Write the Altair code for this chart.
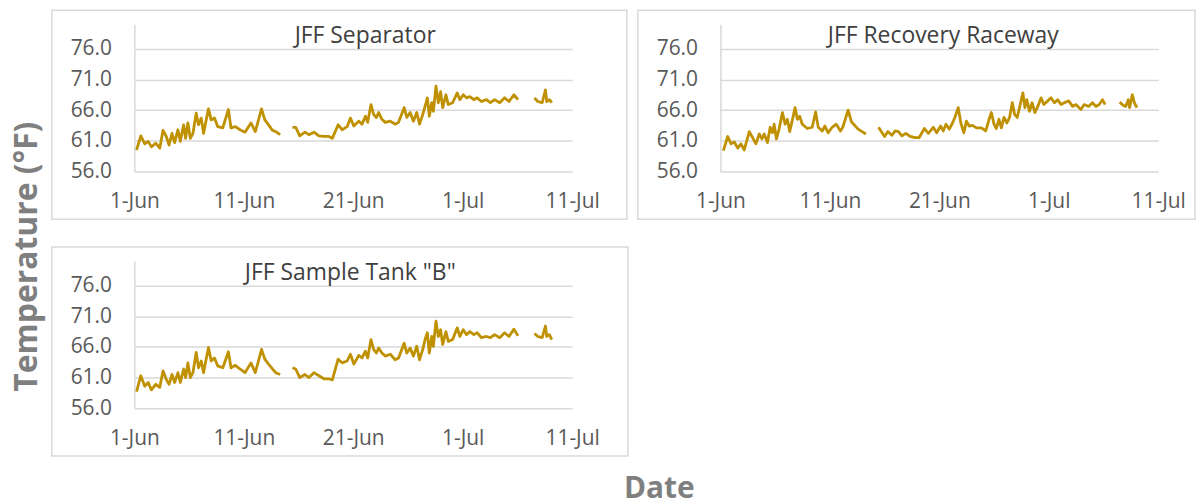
import altair as alt
import pandas as pd

# ---- data (days after 1-Jun, °F); None marks a gap in logging ----
DAYS_A = [0.20, 0.59, 0.95, 1.26, 1.56, 1.95, 2.32, 2.62, 2.92, 3.17, 3.44, 3.68, 3.98, 4.20,
          4.50, 4.68, 4.89, 5.11, 5.35, 5.65, 5.86, 6.11, 6.32, 6.77, 7.02, 7.32, 7.62, 8.08,
          8.59, 8.83, 9.23, 9.65, 10.11, 10.65, 11.05, 11.62, 11.92, 12.26, 12.62, 12.92, 13.32,
          None,
          14.44, 14.74, 15.11, 15.59, 15.95, 16.41, 16.86, 17.32, 17.77, 18.08, 18.62, 18.98,
          19.44, 19.74, 20.05, 20.50, 20.80, 21.11, 21.32, 21.62, 21.86, 22.11, 22.32, 22.62,
          22.92, 23.38, 23.83, 24.14, 24.65, 24.89, 25.20, 25.50, 25.80, 26.05, 26.35, 26.56,
          26.77, 26.95, 27.17, 27.32, 27.56, 27.77, 27.98, 28.17, 28.47, 28.68, 29.08, 29.50,
          29.74, 30.05, 30.35, 30.65, 31.02, 31.32, 31.71, 32.17, 32.53, 32.92, 33.38, 33.83,
          34.23, 34.68, 35.05,
          None,
          36.56, 36.86, 37.26, 37.56, 37.68, 37.92, 38.14]

SEPARATOR_F = [59.5, 61.8, 60.5, 60.9, 60.0, 60.6, 59.8, 62.7, 61.7, 60.3, 62.2, 60.7, 62.8, 60.9,
               63.6, 61.4, 63.9, 61.4, 62.2, 65.5, 63.6, 64.7, 62.2, 66.2, 64.4, 64.7, 63.3, 63.1,
               66.1, 63.1, 63.3, 62.8, 62.4, 63.9, 62.5, 66.2, 64.4, 63.6, 62.7, 62.5, 62.0,
               None,
               63.2, 63.2, 61.8, 62.4, 62.0, 62.4, 61.8, 61.7, 61.7, 61.4, 63.6, 62.8,
               63.3, 64.7, 63.4, 64.2, 63.7, 65.0, 64.0, 66.9, 65.3, 64.8, 65.6, 64.5,
               64.0, 64.2, 63.7, 64.0, 66.4, 64.8, 65.6, 64.2, 65.6, 63.7, 65.3, 66.6,
               68.0, 65.0, 67.2, 65.8, 69.9, 67.2, 69.0, 66.4, 68.5, 66.9, 67.2, 68.8,
               67.7, 68.5, 68.0, 68.2, 67.7, 68.0, 67.4, 67.7, 67.2, 67.7, 67.2, 68.0,
               67.4, 68.5, 67.7,
               None,
               68.0, 67.4, 67.2, 69.3, 67.4, 67.7, 67.2]

TANK_B_F = [58.7, 61.3, 59.6, 60.2, 59.0, 59.9, 59.4, 62.1, 60.7, 59.9, 61.5, 60.2, 61.8, 60.2,
            62.4, 61.0, 63.4, 61.0, 61.8, 65.1, 62.6, 63.7, 61.8, 65.9, 63.7, 64.2, 62.9, 62.6,
            65.2, 62.6, 63.0, 62.4, 61.8, 63.4, 61.8, 65.6, 64.0, 63.2, 62.4, 61.8, 61.5,
            None,
            62.6, 62.4, 61.0, 61.5, 61.0, 61.8, 61.3, 60.8, 60.8, 60.6, 64.0, 63.4,
            63.7, 64.8, 63.2, 64.6, 64.2, 65.3, 64.2, 67.2, 65.6, 65.0, 65.8, 65.0,
            64.5, 64.8, 63.9, 64.2, 66.6, 65.0, 65.8, 64.5, 66.1, 63.9, 65.6, 67.2,
            68.3, 65.0, 67.7, 66.1, 70.2, 67.7, 68.8, 66.4, 68.5, 66.9, 67.2, 69.1,
            67.7, 68.8, 68.0, 68.5, 68.0, 68.3, 67.5, 67.7, 67.5, 68.0, 67.5, 68.3,
            67.7, 68.9, 67.8,
            None,
            68.2, 67.7, 67.5, 69.4, 67.7, 68.0, 67.2]

DAYS_B = [0.27, 0.67, 0.97, 1.27, 1.58, 1.88, 2.18, 2.64, 2.94, 3.24, 3.55, 3.79, 4.00, 4.30,
          4.55, 4.76, 4.91, 5.12, 5.36, 5.67, 5.91, 6.12, 6.33, 6.58, 6.82, 7.03, 7.24, 7.48,
          7.94, 8.39, 8.70, 8.94, 9.30, 9.55, 9.85, 10.21, 10.58, 10.97, 11.18, 11.67, 11.97,
          12.18, 12.58, 12.94, 13.30,
          None,
          14.45, 14.70, 15.00, 15.30, 15.67, 15.97, 16.27, 16.58, 16.94, 17.33, 17.79, 18.15,
          18.64, 19.00, 19.45, 19.76, 20.12, 20.36, 20.61, 20.91, 21.21, 21.42, 21.73, 21.97,
          22.24, 22.48, 22.73, 23.03, 23.39, 23.85, 24.24, 24.55, 24.76, 25.00, 25.21, 25.45,
          25.67, 25.91, 26.18, 26.42, 26.67, 26.88, 27.12, 27.39, 27.64, 27.82, 28.00, 28.24,
          28.48, 28.73, 29.00, 29.30, 29.55, 29.91, 30.21, 30.52, 30.82, 31.12, 31.42, 31.82,
          32.18, 32.48, 32.94, 33.24, 33.64, 34.00, 34.30, 34.61, 34.91, 35.15,
          None,
          36.48, 36.79, 37.03, 37.27, 37.39, 37.64, 37.82, 38.06]

RACEWAY_F = [59.4, 61.7, 60.5, 60.8, 59.8, 60.5, 59.5, 62.5, 61.5, 60.5, 62.1, 61.3, 62.1, 60.7,
             63.2, 62.3, 63.7, 61.3, 62.9, 65.6, 63.7, 64.5, 62.5, 64.4, 66.4, 64.5, 65.0, 63.7,
             63.0, 63.2, 65.7, 63.2, 62.6, 63.4, 62.3, 63.2, 63.7, 62.6, 63.2, 66.0, 64.1,
             63.7, 62.9, 62.5, 62.1,
             None,
             63.2, 62.5, 61.7, 62.5, 61.9, 62.6, 62.5, 61.8, 62.2, 61.7, 61.5, 61.5,
             63.0, 62.2, 63.2, 62.3, 63.4, 62.6, 63.7, 62.9, 63.9, 64.8, 66.4, 63.9,
             62.3, 64.2, 63.4, 63.5, 63.1, 63.1, 62.6, 64.5, 65.6, 63.7, 63.0, 64.5,
             63.1, 64.8, 63.9, 64.8, 67.2, 65.3, 64.8, 66.9, 68.8, 66.4, 67.7, 65.8,
             67.2, 65.6, 66.6, 68.0, 66.9, 67.5, 68.0, 67.2, 67.7, 66.9, 67.2, 67.5,
             66.6, 66.9, 66.1, 66.9, 66.6, 67.2, 66.6, 66.9, 67.7, 66.9,
             None,
             67.3, 66.8, 66.6, 67.7, 66.4, 68.5, 67.2, 66.4]

TITLES = ["JFF Separator", "JFF Recovery Raceway", 'JFF Sample Tank "B"']
Y_TICKS = [56, 61, 66, 71, 76]
X_TICKS = [(6, 1), (6, 11), (6, 21), (7, 1), (7, 11)]
YEAR = 2021
START = pd.Timestamp(f"{YEAR}-06-01")

LINE_COLOR = "#BF9000"
GRID_COLOR = "#d9d9d9"
FONT = "Open Sans"
W, H = 440, 148


def table(days, temps):
    rows, seg = [], 0
    for d, t in zip(days, temps):
        if d is None:
            seg += 1
            continue
        rows.append({"time": (START + pd.Timedelta(days=d)).strftime("%Y-%m-%dT%H:%M:%S"),
                     "temp": t, "seg": seg})
    return pd.DataFrame(rows)


def panel(df, title, title_dx, frame_right, date_title=False):
    axis_kw = dict(
        values=[alt.DateTime(year=YEAR, month=m, date=d) for m, d in X_TICKS],
        format="%-d-%b", grid=False, ticks=False, tickSize=0, domain=False,
        labelFlush=False, labelPadding=19, labelFont=FONT, labelFontSize=21,
        labelColor="#595959",
    )
    if date_title:
        axis_kw.update(title="Date", titleFont=FONT, titleFontSize=30, titleFontWeight="bold",
                       titleColor="#7f7f7f", titleX=527, titleY=81, titleBaseline="middle",
                       titleAlign="center")
        x_title = {}
    else:
        x_title = {"title": None}
    x = alt.X("time:T", axis=alt.Axis(**axis_kw),
              scale=alt.Scale(domain=[alt.DateTime(year=YEAR, month=6, date=1),
                                      alt.DateTime(year=YEAR, month=7, date=11)], nice=False),
              **x_title)
    y = alt.Y("temp:Q", title=None,
              scale=alt.Scale(domain=[56, 80], nice=False, zero=False),
              axis=alt.Axis(values=Y_TICKS, format=".1f", grid=True, gridColor=GRID_COLOR,
                            gridWidth=1.5, domain=True, domainColor=GRID_COLOR, domainWidth=1.5,
                            ticks=False, tickSize=0, labelPadding=23, labelFont=FONT,
                            labelFontSize=21, labelColor="#595959"))
    line = alt.Chart(df).mark_line(color=LINE_COLOR, strokeWidth=2.8, strokeJoin="round").encode(
        x=x, y=y, detail="seg:N")
    frame = alt.Chart(pd.DataFrame({"k": [0]})).mark_rect(
        fillOpacity=0, stroke=GRID_COLOR, strokeWidth=1.5).encode(
        x=alt.value(-83), x2=alt.value(W + frame_right), y=alt.value(-14), y2=alt.value(H + 48))
    return alt.layer(frame, line).properties(
        width=W, height=H,
        title=alt.TitleParams(title, font=FONT, fontSize=23, fontWeight="normal",
                              color="#404040", anchor="middle", offset=-39, dx=title_dx))


p1 = panel(table(DAYS_A, SEPARATOR_F), TITLES[0], 12, 55)
p2 = panel(table(DAYS_B, RACEWAY_F), TITLES[1], 4, 37)
p3 = panel(table(DAYS_A, TANK_B_F), TITLES[2], -3, 56, date_title=True)

chart = alt.vconcat(alt.hconcat(p1, p2, spacing=9), p3, spacing=26).properties(
    padding={"left": 3, "top": 0, "right": 0, "bottom": 8},
    title=alt.TitleParams("Temperature (°F)", orient="left", anchor="middle", font=FONT,
                          fontSize=32, fontWeight="bold", color="#7f7f7f", offset=7),
).configure_view(strokeWidth=0)

chart.save("out.html", embed_options={"renderer": "svg", "actions": False})
